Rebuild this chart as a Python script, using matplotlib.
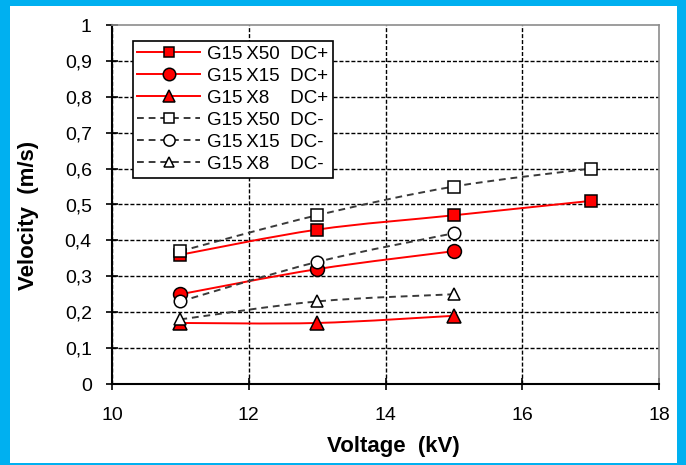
import numpy as np
import matplotlib.pyplot as plt
from matplotlib.path import Path
from matplotlib.patches import PathPatch, Rectangle
from matplotlib.lines import Line2D

plt.rcParams['font.family'] = ['Liberation Sans', 'DejaVu Sans']

# values
volt_long = [11, 13, 15, 17]
volt_short = [11, 13, 15]

x50_pos = [0.36, 0.43, 0.47, 0.51]
x15_pos = [0.25, 0.32, 0.37]
x8_pos = [0.17, 0.17, 0.19]
x50_neg = [0.37, 0.47, 0.55, 0.60]
x15_neg = [0.23, 0.34, 0.42]
x8_neg = [0.18, 0.23, 0.25]

labels = ['G15\u2009X50  DC+', 'G15\u2009X15  DC+', 'G15\u2009X8    DC+',
          'G15\u2009X50  DC-', 'G15\u2009X15  DC-', 'G15\u2009X8    DC-']

xticks = [10, 12, 14, 16, 18]
yticks = [0, 0.1, 0.2, 0.3, 0.4, 0.5, 0.6, 0.7, 0.8, 0.9, 1]
ytick_labels = ['0', '0,1', '0,2', '0,3', '0,4', '0,5', '0,6', '0,7', '0,8', '0,9', '1']


def smooth_path(xs, ys):
    # excel-like smoothed line as cubic bezier segments
    p = np.column_stack([xs, ys]).astype(float)
    n = len(p)
    verts = [p[0]]
    codes = [Path.MOVETO]
    for i in range(n - 1):
        p0 = p[i - 1] if i > 0 else p[i]
        p3 = p[i + 2] if i + 2 < n else p[i + 1]
        verts += [p[i] + (p[i + 1] - p0) / 6, p[i + 1] - (p3 - p[i]) / 6, p[i + 1]]
        codes += [Path.CURVE4] * 3
    return Path(verts, codes)


W, H = 686, 465
fig = plt.figure(figsize=(W / 100, H / 100), dpi=100, facecolor='#00B0F0')
fig.patches.append(Rectangle((10 / W, 2 / H), 667 / W, 457 / H, transform=fig.transFigure,
                             facecolor='white', edgecolor='none', zorder=-10))
ax = fig.add_axes([112 / W, 81 / H, 547 / W, 359 / H])

red = '#FF0000'
dash_col = '#3a3a3a'
series = [
    (volt_long, x50_pos, red, '-', 's', red, 8),
    (volt_short, x15_pos, red, '-', 'o', red, 10),
    (volt_short, x8_pos, red, '-', '^', red, 9.5),
    (volt_long, x50_neg, dash_col, (0, (3.5, 2.5)), 's', 'white', 8.5),
    (volt_short, x15_neg, dash_col, (0, (3.5, 2.5)), 'o', 'white', 9),
    (volt_short, x8_neg, dash_col, (0, (3.5, 2.5)), '^', 'white', 8.5),
]

handles = []
for xs, ys, lc, ls, mk, fc, ms in series:
    ax.add_patch(PathPatch(smooth_path(xs, ys), fill=False, edgecolor=lc,
                           lw=1.4, linestyle=ls, zorder=3))
    ax.plot(xs, ys, linestyle='none', marker=mk, ms=ms, mfc=fc, mec='black',
            mew=1.1, zorder=4)
    handles.append(Line2D([], [], color=lc, lw=1.4, linestyle=ls, marker=mk,
                          ms=ms * 0.9, mfc=fc, mec='black', mew=1.1))

ax.set_xlim(10, 18)
ax.set_ylim(0, 1)
ax.set_xticks(xticks)
ax.set_yticks(yticks)
ax.set_yticklabels(ytick_labels)
ax.tick_params(direction='inout', length=9, width=1.2, labelsize=14, color='black')
ax.tick_params(axis='y', pad=10)
ax.tick_params(axis='x', pad=12)

ax.set_axisbelow(True)
ax.grid(True, color='black', lw=1.0, linestyle=(0, (2.9, 1.4)))
ax.get_ygridlines()[-1].set_visible(False)
ax.get_xgridlines()[-1].set_visible(False)

for side in ['left', 'bottom']:
    ax.spines[side].set_linewidth(1.5)
    ax.spines[side].set_color('black')
for side in ['top', 'right']:
    ax.spines[side].set_linewidth(1.2)
    ax.spines[side].set_color('#8c8c8c')

ax.set_xlabel('Voltage  (kV)', fontsize=16, fontweight='bold')
ax.set_ylabel('Velocity  (m/s)', fontsize=16, fontweight='bold')
ax.xaxis.set_label_coords(0.515, -0.145)
ax.yaxis.set_label_coords(-0.134, 0.469)

leg = ax.legend(handles, labels, loc='upper left', bbox_to_anchor=(0.038, 0.955),
                borderaxespad=0, fontsize=13.5, handlelength=3.35, handletextpad=0.35,
                labelspacing=0.26, borderpad=0.25, fancybox=False, framealpha=1,
                edgecolor='black')
leg.get_frame().set_linewidth(1.2)

fig.savefig('out.png', dpi=100, facecolor=fig.get_facecolor())
